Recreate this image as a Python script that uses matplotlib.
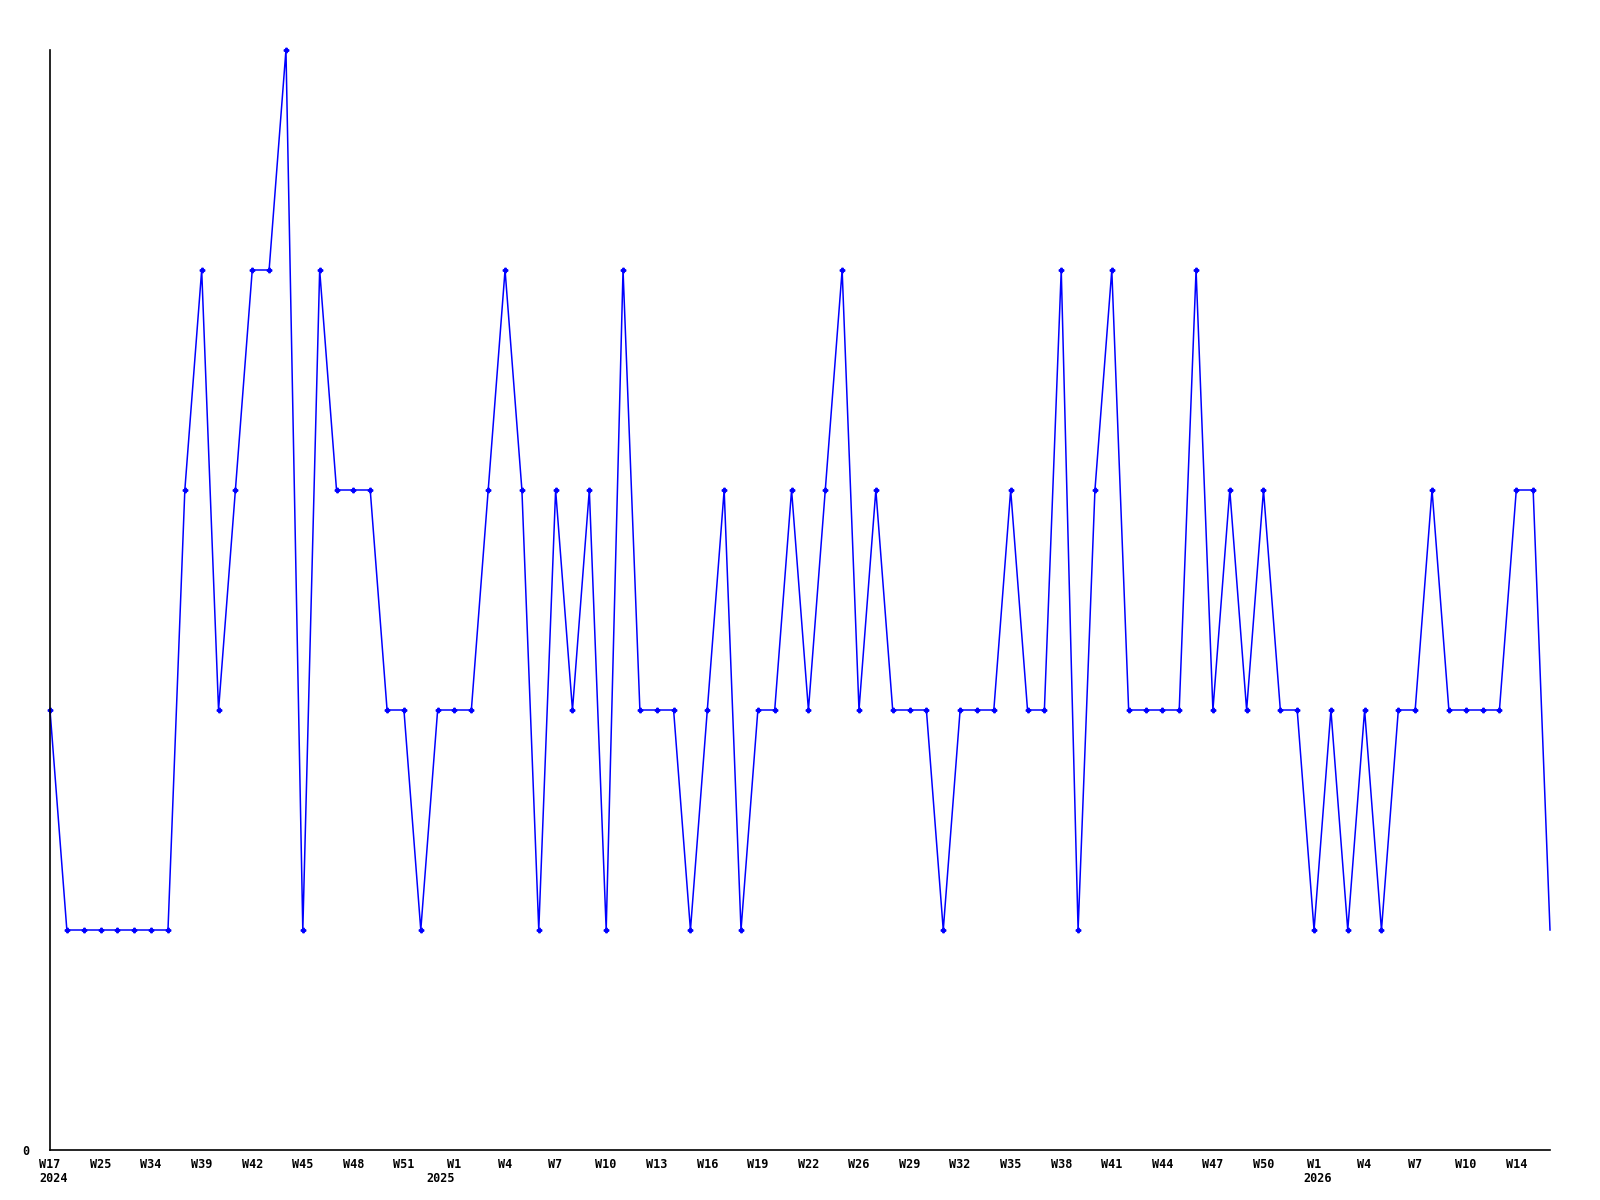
import matplotlib
matplotlib.use("Agg")
import matplotlib.pyplot as plt

# one value per week, evenly spaced
values = [2, 1, 1, 1, 1, 1, 1, 1, 3, 4,
          2, 3, 4, 4, 5, 1, 4, 3, 3, 3,
          2, 2, 1, 2, 2, 2, 3, 4, 3, 1,
          3, 2, 3, 1, 4, 2, 2, 2, 1, 2,
          3, 1, 2, 2, 3, 2, 3, 4, 2, 3,
          2, 2, 2, 1, 2, 2, 2, 3, 2, 2,
          4, 1, 3, 4, 2, 2, 2, 2, 4, 2,
          3, 2, 3, 2, 2, 1, 2, 1, 2, 1,
          2, 2, 3, 2, 2, 2, 2, 3, 3, 1]

# a label under every third point
tick_pos = list(range(0, 90, 3))
tick_labels = ["W17", "W25", "W34", "W39", "W42", "W45", "W48", "W51",
               "W1", "W4", "W7", "W10", "W13", "W16", "W19", "W22",
               "W26", "W29", "W32", "W35", "W38", "W41", "W44", "W47", "W50",
               "W1", "W4", "W7", "W10", "W14"]
years = ["2024", "2025", "2026"]
year_pos = [0.2, 23.2, 75.2]

fig = plt.figure(figsize=(16, 12), dpi=100)
ax = fig.add_axes([50 / 1600, 50 / 1200, 1500 / 1600, 1100 / 1200])

x = list(range(len(values)))
ax.plot(x, values, color="#0000ff", linewidth=1.1, marker="P", markersize=3.2,
        markevery=list(range(len(values) - 1)), clip_on=False)

ax.set_xlim(0, len(values) - 1)
ax.set_ylim(0, 5)

for s in ["top", "right"]:
    ax.spines[s].set_visible(False)
for s in ["left", "bottom"]:
    ax.spines[s].set_linewidth(1.2)
    ax.spines[s].set_color("black")

font = dict(family="DejaVu Sans Mono", fontweight="bold", fontsize=8.5)
ax.set_xticks(tick_pos)
ax.set_xticklabels(tick_labels, **font)
ax.set_yticks([0])
ax.set_yticklabels(["0"], **font)
ax.tick_params(axis="x", length=0, pad=6)
ax.tick_params(axis="y", length=0, pad=15)

# year labels on a second row below the weeks
for yr, xp in zip(years, year_pos):
    ax.annotate(yr, xy=(xp, 0), xycoords=("data", "axes fraction"),
                xytext=(0, -16), textcoords="offset points",
                ha="center", va="top", **font)

fig.savefig("out.png", dpi=100, facecolor="white")
